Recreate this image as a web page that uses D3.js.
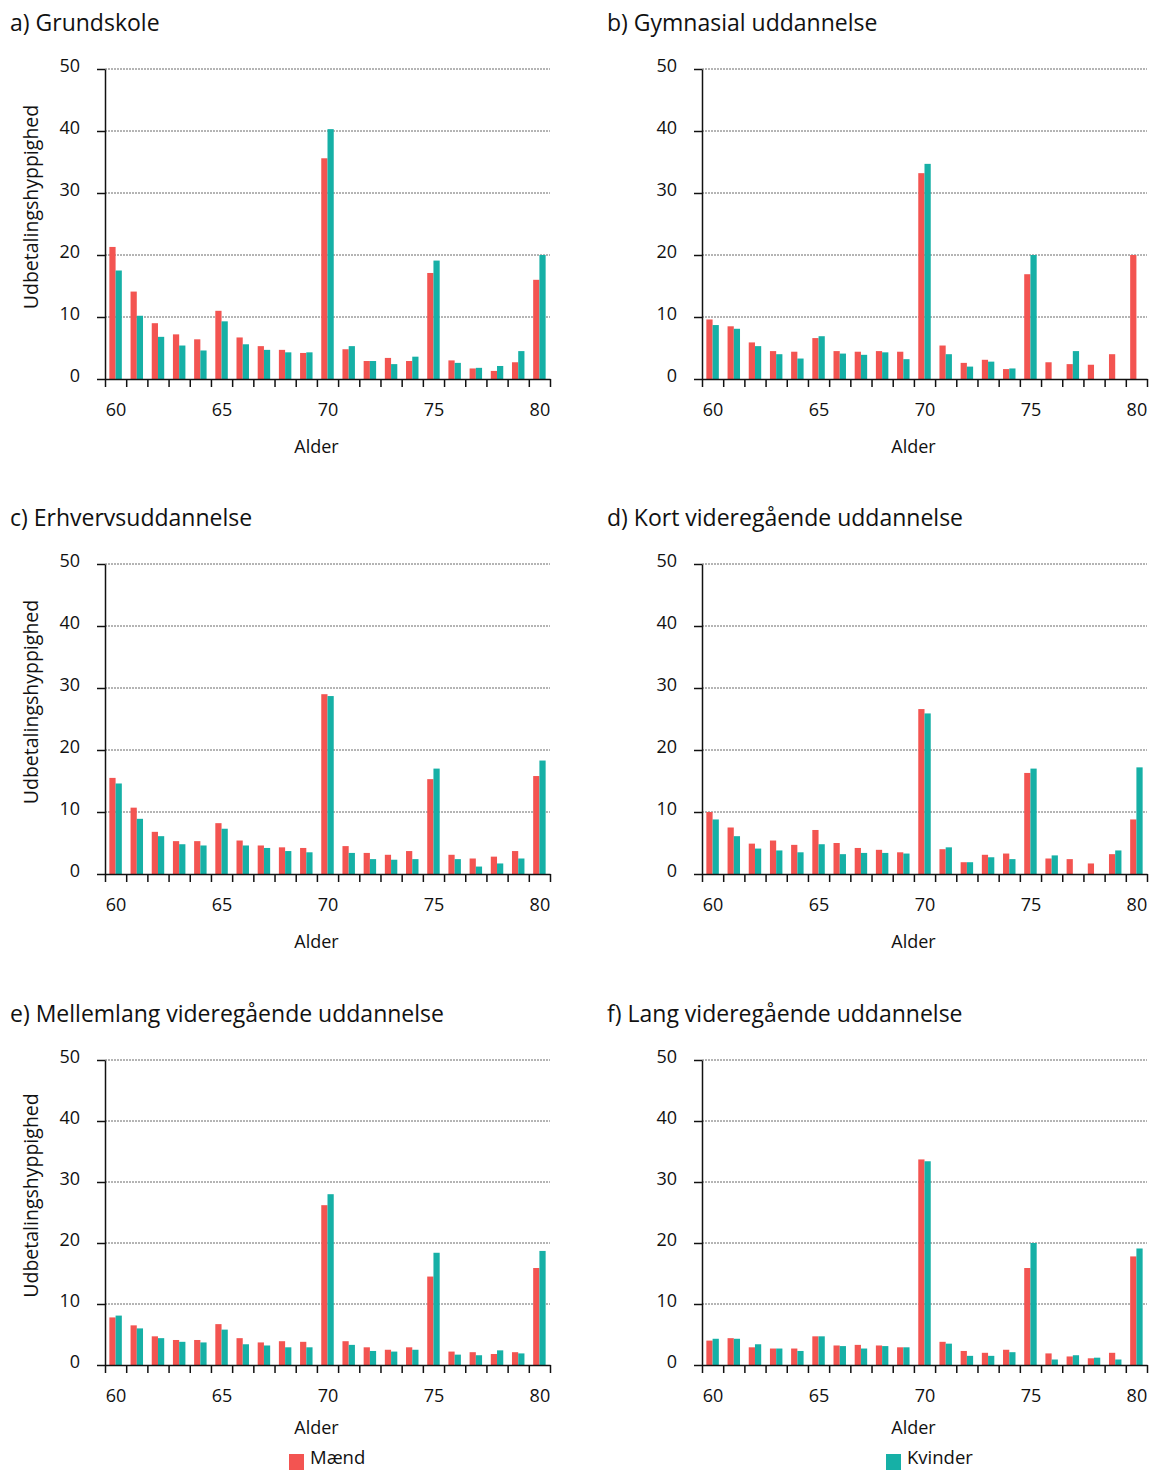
<!DOCTYPE html>
<html>
<head>
<meta charset="utf-8">
<script src="https://cdn.jsdelivr.net/npm/d3@7"></script>
<style>
  body { margin: 0; background: #fff; }
  text { font-family: "Open Sans", "Noto Sans", sans-serif; fill: #111; }
</style>
</head>
<body>
<div id="chart"></div>
<script>
const ages = d3.range(60, 81);
const seriesNames = ['Mænd', 'Kvinder'];
const seriesColors = ['#f35451', '#16b0a6'];
const yTicks = [0, 10, 20, 30, 40, 50];
const xTickLabels = [60, 65, 70, 75, 80];

const panelTitles = [
  'a) Grundskole',
  'b) Gymnasial uddannelse',
  'c) Erhvervsuddannelse',
  'd) Kort videregående uddannelse',
  'e) Mellemlang videregående uddannelse',
  'f) Lang videregående uddannelse'
];

// values per age 60..80
const grundskoleMaend   = [21.3, 14.1, 9.0, 7.2, 6.4, 11.0, 6.7, 5.3, 4.7, 4.2, 35.6, 4.8, 2.9, 3.4, 2.9, 17.1, 3.0, 1.7, 1.3, 2.7, 16.0];
const grundskoleKvinder = [17.5, 10.2, 6.8, 5.4, 4.6, 9.3, 5.6, 4.7, 4.3, 4.3, 40.3, 5.3, 2.9, 2.4, 3.6, 19.1, 2.6, 1.8, 2.1, 4.5, 20.0];

const gymnasialMaend   = [9.6, 8.5, 5.9, 4.5, 4.4, 6.6, 4.5, 4.4, 4.5, 4.4, 33.2, 5.4, 2.6, 3.1, 1.6, 16.9, 2.7, 2.4, 2.3, 4.0, 20.0];
const gymnasialKvinder = [8.7, 8.1, 5.3, 4.0, 3.3, 6.9, 4.1, 3.9, 4.3, 3.2, 34.7, 4.0, 2.0, 2.8, 1.7, 20.0, 0, 4.5, 0, 0, 0];

const erhvervMaend   = [15.5, 10.7, 6.8, 5.3, 5.3, 8.2, 5.4, 4.6, 4.3, 4.2, 29.0, 4.5, 3.4, 3.1, 3.7, 15.3, 3.1, 2.5, 2.8, 3.7, 15.8];
const erhvervKvinder = [14.6, 8.9, 6.1, 4.8, 4.6, 7.3, 4.6, 4.2, 3.7, 3.5, 28.7, 3.4, 2.4, 2.3, 2.4, 17.0, 2.4, 1.2, 1.7, 2.5, 18.3];

const kortMaend   = [10.0, 7.5, 4.9, 5.4, 4.7, 7.1, 5.0, 4.2, 3.9, 3.5, 26.6, 4.0, 1.9, 3.1, 3.3, 16.3, 2.5, 2.4, 1.7, 3.2, 8.8];
const kortKvinder = [8.8, 6.1, 4.1, 3.8, 3.5, 4.8, 3.2, 3.4, 3.4, 3.3, 25.9, 4.3, 1.9, 2.7, 2.4, 17.0, 3.0, 0, 0, 3.8, 17.2];

const mellemMaend   = [7.8, 6.5, 4.7, 4.1, 4.1, 6.7, 4.4, 3.7, 3.9, 3.8, 26.2, 3.9, 2.9, 2.5, 2.9, 14.5, 2.2, 2.1, 1.8, 2.1, 15.9];
const mellemKvinder = [8.1, 6.0, 4.4, 3.8, 3.7, 5.8, 3.4, 3.2, 2.9, 2.9, 28.0, 3.3, 2.3, 2.2, 2.5, 18.4, 1.7, 1.6, 2.4, 1.9, 18.7];

const langMaend   = [4.0, 4.4, 2.9, 2.7, 2.7, 4.7, 3.2, 3.3, 3.2, 2.9, 33.7, 3.8, 2.3, 2.0, 2.5, 15.9, 1.9, 1.4, 1.1, 2.0, 17.8];
const langKvinder = [4.3, 4.3, 3.4, 2.7, 2.3, 4.7, 3.1, 2.7, 3.1, 2.9, 33.4, 3.5, 1.5, 1.5, 2.1, 20.0, 0.9, 1.6, 1.2, 0.9, 19.1];

const panelData = [
  [grundskoleMaend, grundskoleKvinder],
  [gymnasialMaend, gymnasialKvinder],
  [erhvervMaend, erhvervKvinder],
  [kortMaend, kortKvinder],
  [mellemMaend, mellemKvinder],
  [langMaend, langKvinder]
];

const width = 1152, height = 1470;
const plotW = 445;
const colX = [105, 702];
const rows = [
  { top: 69, h: 310, alder: 74 },
  { top: 564, h: 310, alder: 74 },
  { top: 1060, h: 305, alder: 69 }
];

const svg = d3.select('#chart').append('svg')
  .attr('width', width)
  .attr('height', height);

panelData.forEach((pair, i) => {
  const col = i % 2, row = Math.floor(i / 2);
  const h = rows[row].h;
  const g = svg.append('g')
    .attr('transform', `translate(${colX[col]},${rows[row].top})`);

  const x = d3.scaleBand().domain(ages).range([0, plotW]).padding(0);
  const xSub = d3.scaleBand().domain(seriesNames).range([0, x.bandwidth()])
    .paddingInner(0).paddingOuter(0.7);
  const xEdge = d3.scaleLinear().domain([59.5, 80.5]).range([0, plotW]);
  const y = d3.scaleLinear().domain([0, 50]).range([h, 0]);

  // title
  g.append('text')
    .attr('x', -95)
    .attr('y', -38)
    .style('font-size', '23px')
    .text(panelTitles[i]);

  // gridlines
  g.append('g').selectAll('line')
    .data(yTicks.filter(d => d > 0))
    .enter().append('line')
    .attr('x1', 0).attr('x2', plotW)
    .attr('y1', d => y(d)).attr('y2', d => y(d))
    .attr('stroke', '#444')
    .attr('stroke-width', 0.8)
    .attr('stroke-dasharray', '2,1');

  // bars
  pair.forEach((vals, s) => {
    g.append('g').selectAll('rect')
      .data(vals)
      .enter().append('rect')
      .attr('x', (d, j) => x(ages[j]) + xSub(seriesNames[s]))
      .attr('width', xSub.bandwidth())
      .attr('y', d => y(d))
      .attr('height', d => h - y(d))
      .attr('fill', seriesColors[s]);
  });

  // y axis
  const yAxis = g.append('g')
    .call(d3.axisLeft(y).tickValues(yTicks).tickSize(8).tickPadding(17).tickSizeOuter(0));
  yAxis.selectAll('text').style('font-size', '18px').attr('dy', '0.15em');
  yAxis.selectAll('line, path').attr('stroke', '#111').attr('stroke-width', 1.5);

  // x axis: ticks at band edges
  const xAxis = g.append('g')
    .attr('transform', `translate(0,${h})`)
    .call(d3.axisBottom(xEdge).tickValues(d3.range(59.5, 81, 1)).tickFormat('').tickSize(8).tickSizeOuter(0));
  xAxis.selectAll('line, path').attr('stroke', '#111').attr('stroke-width', 1.5);

  const xLab = g.append('g')
    .attr('transform', `translate(0,${h})`)
    .call(d3.axisBottom(xEdge).tickValues(xTickLabels).tickFormat(d3.format('d')).tickSize(0).tickPadding(24));
  xLab.select('.domain').remove();
  xLab.selectAll('text').style('font-size', '18px');

  g.append('text')
    .attr('x', plotW / 2 - 11)
    .attr('y', h + rows[row].alder)
    .attr('text-anchor', 'middle')
    .style('font-size', '18px')
    .text('Alder');

  if (col === 0) {
    g.append('text')
      .attr('transform', `translate(-67,${h / 2 - 17}) rotate(-90)`)
      .attr('text-anchor', 'middle')
      .style('font-size', '19.5px')
      .text('Udbetalingshyppighed');
  }
});

// legend
const legendX = [289, 886];
seriesNames.forEach((name, s) => {
  const lg = svg.append('g').attr('transform', `translate(${legendX[s]},1452)`);
  lg.append('rect')
    .attr('width', 15).attr('height', 16)
    .attr('y', 2)
    .attr('fill', seriesColors[s]);
  lg.append('text')
    .attr('x', 21)
    .attr('y', 12)
    .style('font-size', '18.5px')
    .text(name);
});
</script>
</body>
</html>
